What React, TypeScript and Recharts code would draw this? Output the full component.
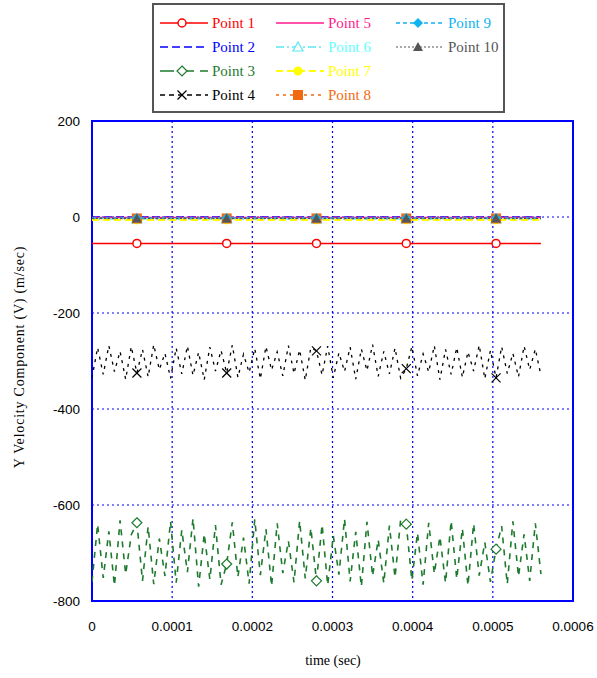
import React from "react";
import {
  LineChart,
  Line,
  XAxis,
  YAxis,
  CartesianGrid,
  ReferenceArea,
} from "recharts";

// sample times in microseconds for the oscillating probes
const TIME_US = [
  0, 7, 14, 21, 28, 35, 42, 49, 56, 63, 70, 77, 84, 91, 98, 105, 112, 119, 126,
  133, 140, 147, 154, 161, 168, 175, 182, 189, 196, 203, 210, 217, 224, 231, 238,
  245, 252, 259, 266, 273, 280, 287, 294, 301, 308, 315, 322, 329, 336, 343, 350,
  357, 364, 371, 378, 385, 392, 399, 406, 413, 420, 427, 434, 441, 448, 455, 462,
  469, 476, 483, 490, 497, 504, 511, 518, 525, 532, 539, 546, 553, 560,
];

const P3 = [
  -760, -640, -752, -655, -768, -632, -744, -662, -637, -758, -645, -765, -670,
  -748, -634, -762, -652, -740, -628, -770, -660, -755, -642, -766, -723, -636,
  -750, -668, -764, -630, -746, -650, -769, -638, -742, -675, -761, -633, -753,
  -648, -758, -641, -767, -664, -745, -629, -759, -656, -770, -635, -748, -672,
  -763, -643, -751, -631, -640, -757, -658, -766, -637, -743, -666, -762, -633,
  -754, -649, -768, -639, -747, -678, -760, -692, -644, -765, -634, -749, -661,
  -758, -638, -744,
];

const P4 = [
  -335, -272, -328, -268, -322, -280, -338, -270, -325, -276, -333, -266, -318,
  -284, -336, -273, -327, -269, -330, -282, -339, -271, -321, -278, -325, -267,
  -334, -286, -324, -274, -337, -270, -319, -281, -331, -268, -326, -277, -340,
  -272, -279, -329, -269, -335, -283, -322, -271, -338, -275, -320, -266, -332,
  -280, -327, -273, -336, -316, -270, -331, -285, -323, -268, -339, -276, -328,
  -272, -334, -281, -321, -267, -337, -278, -335, -270, -326, -284, -333, -269,
  -318, -275, -330,
];

// steady probes
const FLAT_TIME_US = [0, 56, 168, 280, 392, 504, 560];
const P1 = [-55, -55, -55, -55, -55, -55, -55];
const P2 = [0, 0, 0, 0, 0, 0, 0];
const P5 = [-1, -1, -1, -1, -1, -1, -1];
const P6 = [-4, -4, -4, -4, -4, -4, -4];
const P7 = [-6, -6, -6, -6, -6, -6, -6];
const P8 = [-3, -3, -3, -3, -3, -3, -3];
const P9 = [-2, -2, -2, -2, -2, -2, -2];
const P10 = [-3, -3, -3, -3, -3, -3, -3];

const MARKER_US = [56, 168, 280, 392, 504];

const X_TICKS = [0, 0.0001, 0.0002, 0.0003, 0.0004, 0.0005, 0.0006];
const Y_TICKS = [-800, -600, -400, -200, 0, 200];

const waveData = TIME_US.map((us, i) => ({ us, t: us / 1e6, p3: P3[i], p4: P4[i] }));
const flat = (vals: number[]) =>
  FLAT_TIME_US.map((us, i) => ({ us, t: us / 1e6, v: vals[i] }));

type Shape =
  | "circle"
  | "none"
  | "diamond"
  | "x"
  | "triangle"
  | "dot"
  | "square"
  | "fdiamond"
  | "ftriangle";

interface Series {
  name: string;
  color: string;
  textColor?: string;
  dash?: string;
  legendDash?: string;
  width: number;
  shape: Shape;
  data?: any[];
  dataKey: string;
}

const SERIES: Series[] = [
  { name: "Point 1", color: "#ff0000", width: 1.5, shape: "circle", data: flat(P1), dataKey: "v" },
  { name: "Point 2", color: "#0000ff", dash: "8 4", width: 1.5, shape: "none", data: flat(P2), dataKey: "v" },
  { name: "Point 3", color: "#1e7b2e", dash: "6 6", legendDash: "14 6", width: 1.6, shape: "diamond", dataKey: "p3" },
  { name: "Point 4", color: "#000000", dash: "3 5", legendDash: "5 4", width: 1.3, shape: "x", dataKey: "p4" },
  { name: "Point 5", color: "#ff1a8c", width: 1.5, shape: "none", data: flat(P5), dataKey: "v" },
  { name: "Point 6", color: "#5ce6f0", textColor: "#66ffff", dash: "8 3 2 3", width: 1.5, shape: "triangle", data: flat(P6), dataKey: "v" },
  { name: "Point 7", color: "#ffff00", dash: "7 4", width: 2, shape: "dot", data: flat(P7), dataKey: "v" },
  { name: "Point 8", color: "#f26a10", dash: "3 4", width: 1.5, shape: "square", data: flat(P8), dataKey: "v" },
  { name: "Point 9", color: "#0fb3f0", dash: "4 3", width: 1.5, shape: "fdiamond", data: flat(P9), dataKey: "v" },
  { name: "Point 10", color: "#555555", dash: "2 2", width: 1.2, shape: "ftriangle", data: flat(P10), dataKey: "v" },
];

function Marker({ shape, color, cx, cy }: { shape: Shape; color: string; cx: number; cy: number }) {
  switch (shape) {
    case "circle":
      return <circle cx={cx} cy={cy} r={4} fill="#fff" stroke={color} strokeWidth={1.5} />;
    case "diamond":
      return (
        <polygon
          points={`${cx},${cy - 5} ${cx + 5},${cy} ${cx},${cy + 5} ${cx - 5},${cy}`}
          fill="#fff"
          stroke={color}
          strokeWidth={1.2}
        />
      );
    case "x":
      return (
        <g stroke={color} strokeWidth={1.2}>
          <line x1={cx - 4.5} y1={cy - 4.5} x2={cx + 4.5} y2={cy + 4.5} />
          <line x1={cx - 4.5} y1={cy + 4.5} x2={cx + 4.5} y2={cy - 4.5} />
        </g>
      );
    case "triangle":
      return (
        <polygon
          points={`${cx},${cy - 5} ${cx + 5},${cy + 4} ${cx - 5},${cy + 4}`}
          fill="#fff"
          stroke={color}
          strokeWidth={1.2}
        />
      );
    case "dot":
      return <circle cx={cx} cy={cy} r={4.5} fill={color} />;
    case "square":
      return <rect x={cx - 5} y={cy - 5} width={10} height={10} fill={color} />;
    case "fdiamond":
      return (
        <polygon
          points={`${cx},${cy - 5} ${cx + 5},${cy} ${cx},${cy + 5} ${cx - 5},${cy}`}
          fill={color}
        />
      );
    case "ftriangle":
      return (
        <polygon points={`${cx},${cy - 5} ${cx + 5},${cy + 4} ${cx - 5},${cy + 4}`} fill={color} />
      );
    default:
      return null;
  }
}

const makeDot = (s: Series) => (props: any) => {
  const { cx, cy, payload, index } = props;
  if (s.shape === "none" || !MARKER_US.includes(payload.us)) return <g key={`d-${index}`} />;
  return (
    <g key={`d-${index}`}>
      <Marker shape={s.shape} color={s.color} cx={cx} cy={cy} />
    </g>
  );
};

function LegendSwatch({ s }: { s: Series }) {
  return (
    <svg width={48} height={14} style={{ display: "block" }}>
      <line
        x1={0}
        y1={7}
        x2={48}
        y2={7}
        stroke={s.color}
        strokeWidth={s.width}
        strokeDasharray={s.legendDash ?? s.dash}
      />
      <Marker shape={s.shape} color={s.color} cx={22} cy={7} />
    </svg>
  );
}

const LEGEND_COLS = [
  { x: 160, items: [0, 1, 2, 3] },
  { x: 276, items: [4, 5, 6, 7] },
  { x: 396, items: [8, 9] },
];
const LEGEND_ROWS = [23, 47, 71, 95];

export default function App() {
  return (
    <div
      style={{
        position: "absolute",
        left: 0,
        top: 0,
        width: 597,
        height: 678,
        background: "#fff",
        overflow: "hidden",
      }}
    >
      <LineChart
        width={597}
        height={678}
        data={waveData}
        margin={{ top: 121, right: 24, bottom: 0, left: 0 }}
      >
        <CartesianGrid stroke="#0000ff" strokeDasharray="2 3" strokeWidth={1.2} />
        <XAxis
          dataKey="t"
          type="number"
          domain={[0, 0.0006]}
          ticks={X_TICKS}
          height={77}
          axisLine={false}
          tickLine={false}
          tickSize={0}
          tickMargin={20}
          tick={{ fill: "#000", fontSize: 13.5, fontFamily: "Liberation Sans" }}
          allowDataOverflow
        />
        <YAxis
          type="number"
          domain={[-800, 200]}
          ticks={Y_TICKS}
          width={92}
          axisLine={false}
          tickLine={false}
          tickSize={0}
          tickMargin={12}
          tick={{ fill: "#000", fontSize: 13.5, fontFamily: "Liberation Sans" }}
          allowDataOverflow
        />
        <ReferenceArea
          x1={0}
          x2={0.0006}
          y1={-800}
          y2={200}
          fill="none"
          fillOpacity={0}
          stroke="#0000ff"
          strokeWidth={2}
        />
        {SERIES.map((s) => (
          <Line
            key={s.name}
            data={s.data}
            dataKey={s.dataKey}
            type="linear"
            stroke={s.color}
            strokeWidth={s.width}
            strokeDasharray={s.dash}
            dot={makeDot(s)}
            activeDot={false}
            isAnimationActive={false}
          />
        ))}
      </LineChart>

      {/* legend box */}
      <div
        style={{
          position: "absolute",
          left: 152,
          top: 3,
          width: 349,
          height: 106,
          border: "2px solid #555",
          background: "#fff",
        }}
      />
      {LEGEND_COLS.map((col) =>
        col.items.map((idx, r) => {
          const s = SERIES[idx];
          return (
            <div
              key={s.name}
              style={{
                position: "absolute",
                left: col.x,
                top: LEGEND_ROWS[r] - 9,
                height: 18,
                display: "flex",
                alignItems: "center",
                gap: 4,
                whiteSpace: "nowrap",
              }}
            >
              <LegendSwatch s={s} />
              <span
                style={{
                  fontFamily: "Liberation Serif",
                  fontSize: 15,
                  color: s.textColor ?? s.color,
                }}
              >
                {s.name}
              </span>
            </div>
          );
        })
      )}

      <div
        style={{
          position: "absolute",
          left: 20,
          top: 357,
          transform: "translate(-50%, -50%) rotate(-90deg)",
          whiteSpace: "nowrap",
          fontFamily: "Liberation Serif",
          fontSize: 14,
          letterSpacing: 0.8,
        }}
      >
        Y Velocity Component (V) (m/sec)
      </div>
      <div
        style={{
          position: "absolute",
          left: 333,
          top: 661,
          transform: "translate(-50%, -50%)",
          whiteSpace: "nowrap",
          fontFamily: "Liberation Serif",
          fontSize: 14,
        }}
      >
        time (sec)
      </div>
    </div>
  );
}
